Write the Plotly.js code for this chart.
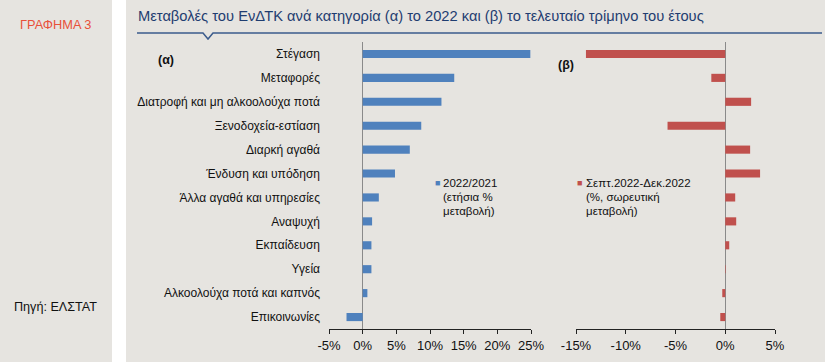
<!DOCTYPE html>
<html><head><meta charset="utf-8">
<script src="https://cdn.plot.ly/plotly-3.0.1.min.js"></script>
<style>html,body{margin:0;padding:0;background:#e6e4e0;}#c{width:825px;height:362px;}</style>
</head><body><div id="c"></div>
<script>
const categories = ["Στέγαση","Μεταφορές","Διατροφή και μη αλκοολούχα ποτά","Ξενοδοχεία-εστίαση","Διαρκή αγαθά","Ένδυση και υπόδηση","Άλλα αγαθά και υπηρεσίες","Αναψυχή","Εκπαίδευση","Υγεία","Αλκοολούχα ποτά και καπνός","Επικοινωνίες"];
const annual2022 = [24.9, 13.6, 11.7, 8.7, 7.0, 4.8, 2.4, 1.4, 1.3, 1.3, 0.7, -2.4];
const quarterQ4 = [-14.0, -1.4, 2.6, -5.8, 2.5, 3.5, 1.0, 1.1, 0.4, 0.05, -0.3, -0.5];
const ticksA = [-5, 0, 5, 10, 15, 20, 25];
const ticksB = [-15, -10, -5, 0, 5];
const legendA = ["2022/2021", "(ετήσια %", "μεταβολή)"];
const legendB = ["Σεπτ.2022-Δεκ.2022", "(%, σωρευτική", "μεταβολή)"];

const W = 825, H = 362;
const px = x => x / W, py = y => 1 - y / H;
const F = "Liberation Sans, Arial, sans-serif";
const pct = v => v + "%";

const traces = [
  {type:"bar", orientation:"h", x:annual2022, y:categories, xaxis:"x", yaxis:"y",
   marker:{color:"#4f81bd"}, hoverinfo:"skip"},
  {type:"bar", orientation:"h", x:quarterQ4, y:categories, xaxis:"x2", yaxis:"y2",
   marker:{color:"#c0504d"}, hoverinfo:"skip"}
];

const axX = {
  showgrid:false, zeroline:true, zerolinecolor:"#8a8a8a", zerolinewidth:1,
  showline:true, linecolor:"#222", linewidth:1, ticks:"outside", ticklen:4, tickcolor:"#222",
  tickfont:{family:F, size:13, color:"#111"}, fixedrange:true, tickmode:"array"
};
const layout = {
  width:W, height:H, margin:{l:0,r:0,t:0,b:0},
  paper_bgcolor:"#e6e4e0", plot_bgcolor:"rgba(0,0,0,0)",
  showlegend:false, bargap:0.66,
  font:{family:F, size:12, color:"#111"},
  xaxis:Object.assign({}, axX, {domain:[px(329), px(531)], range:[-5,25], tickvals:ticksA, ticktext:ticksA.map(pct), anchor:"y"}),
  xaxis2:Object.assign({}, axX, {domain:[px(576), px(775)], range:[-15,5], tickvals:ticksB, ticktext:ticksB.map(pct), anchor:"y2"}),
  yaxis:{domain:[py(329), py(42)], autorange:"reversed", type:"category", showgrid:false, zeroline:false,
         showline:false, ticks:"", ticklabelstandoff:8, tickfont:{family:F, size:12, color:"#111"}, anchor:"x", fixedrange:true},
  yaxis2:{domain:[py(329), py(42)], autorange:"reversed", type:"category", showgrid:false, zeroline:false,
         showline:false, showticklabels:false, ticks:"", anchor:"x2", fixedrange:true},
  shapes:[
    {type:"rect", xref:"paper", yref:"paper", x0:px(112), x1:px(126), y0:0, y1:1, fillcolor:"#ffffff", line:{width:0}, layer:"below"},
    {type:"path", xref:"paper", yref:"paper",
     path:`M ${px(137)} ${py(33)} L ${px(203)} ${py(33)} L ${px(208)} ${py(39)} L ${px(213)} ${py(33)} L ${px(822)} ${py(33)}`,
     line:{color:"#3b5b8c", width:1.5}}
  ],
  annotations:[
    {xref:"paper", yref:"paper", x:px(55), y:py(25), xanchor:"center", yanchor:"middle", showarrow:false,
     text:"ΓΡΑΦΗΜΑ 3", font:{family:F, size:12.8, color:"#e8513a"}},
    {xref:"paper", yref:"paper", x:px(55), y:py(307), xanchor:"center", yanchor:"middle", showarrow:false,
     text:"Πηγή: ΕΛΣΤΑΤ", font:{family:F, size:12.6, color:"#111"}},
    {xref:"paper", yref:"paper", x:px(136), y:py(16), xanchor:"left", yanchor:"middle", showarrow:false,
     text:"Μεταβολές του ΕνΔΤΚ ανά κατηγορία (α) το 2022 και (β) το τελευταίο τρίμηνο του έτους",
     font:{family:F, size:14.7, color:"#1f3d70"}},
    {xref:"paper", yref:"paper", x:px(156), y:py(60), xanchor:"left", yanchor:"middle", showarrow:false,
     text:"<b>(α)</b>", font:{family:F, size:12.5, color:"#111"}},
    {xref:"paper", yref:"paper", x:px(556), y:py(65), xanchor:"left", yanchor:"middle", showarrow:false,
     text:"<b>(β)</b>", font:{family:F, size:12.5, color:"#111"}},
    {xref:"paper", yref:"paper", x:px(433), y:py(183), xanchor:"left", yanchor:"middle", showarrow:false,
     text:"■", font:{family:F, size:9, color:"#4f81bd"}},
    {xref:"paper", yref:"paper", x:px(575), y:py(183), xanchor:"left", yanchor:"middle", showarrow:false,
     text:"■", font:{family:F, size:9, color:"#c0504d"}}
  ]
};
legendA.forEach((t,i)=>layout.annotations.push({xref:"paper", yref:"paper", x:px(441), y:py(183+14*i),
  xanchor:"left", yanchor:"middle", showarrow:false, text:t, font:{family:F, size:11.5, color:"#111"}}));
legendB.forEach((t,i)=>layout.annotations.push({xref:"paper", yref:"paper", x:px(584), y:py(183+14*i),
  xanchor:"left", yanchor:"middle", showarrow:false, text:t, font:{family:F, size:11.5, color:"#111"}}));

Plotly.newPlot("c", traces, layout, {staticPlot:true, displayModeBar:false});
</script></body></html>
